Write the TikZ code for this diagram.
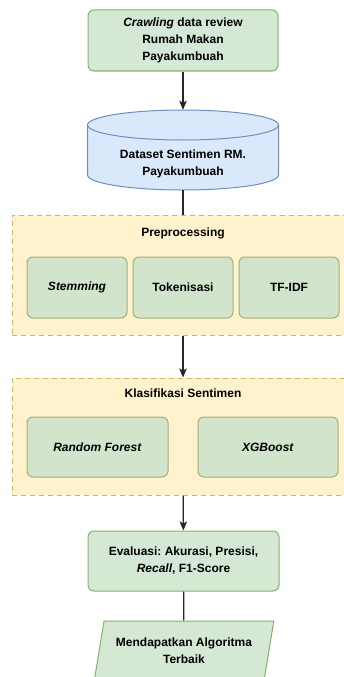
\documentclass[tikz,border=0pt]{standalone}
\usepackage{fontspec}
\setmainfont{Liberation Sans}
\usepackage{tikz}
\usetikzlibrary{positioning, shapes.geometric, arrows.meta}
\definecolor{grfill}{HTML}{D5E8D4}
\definecolor{grline}{HTML}{82B366}
\definecolor{bufill}{HTML}{DAE8FC}
\definecolor{buline}{HTML}{6C8EBF}
\definecolor{yefill}{HTML}{FFF2CC}
\definecolor{yeline}{HTML}{D6B656}
\definecolor{ingfill}{HTML}{D3E4CD}
\definecolor{ingline}{HTML}{A2AE78}
\tikzstyle{txt}=[font=\fontsize{12}{17}\selectfont\bfseries, align=center, inner sep=0pt]
\tikzstyle{gbox}=[txt, draw=grline, fill=grfill, line width=1pt, rounded corners=6pt, shape=rectangle]
\tikzstyle{ibox}=[txt, draw=ingline, fill=ingfill, line width=1pt, rounded corners=6pt, shape=rectangle]
\tikzstyle{grp}=[draw=yeline, fill=yefill, line width=1pt, dashed, dash pattern=on 5pt off 4pt, shape=rectangle, inner sep=0pt]
\tikzstyle{conn}=[line width=1.2pt, black!85]
\tikzset{>={Stealth[length=9pt, width=7.5pt, inset=2pt]}}
\frenchspacing

\begin{document}
\begin{tikzpicture}[x=1pt, y=-1pt]
\useasboundingbox (0,0) rectangle (344,677);
% alur utama
\node[gbox, minimum width=190pt, minimum height=61pt] (crawl) at (183,40.5) {\textit{Crawling} data review\\Rumah Makan\\Payakumbuah};
% silinder dataset
\draw[draw=buline, fill=bufill, line width=1pt] (87.5,125) -- (87.5,175) arc[start angle=180, end angle=0, x radius=95.5, y radius=15] -- (278.5,125);
\draw[draw=buline, fill=bufill, line width=1pt] (183,125) ellipse[x radius=95.5, y radius=15];
\node[inner sep=0pt, minimum width=191pt, minimum height=80pt] (ds) at (183,150) {};
\node[txt] (dstxt) at (183,163.5) {Dataset Sentimen RM.\\Payakumbuah};

% preprocessing
\node[grp, minimum width=342pt, minimum height=120pt] (pre) at (183,275) {};
\node[txt] (pretitle) at (183,233) {Preprocessing};
\foreach \x/\n/\t in {77/stem/\textit{Stemming}, 183/tok/Tokenisasi, 289/tfidf/TF-IDF}
{
\node[ibox, minimum width=100pt, minimum height=61pt] (\n) at (\x,287.5) {\t};
}

% klasifikasi
\node[grp, minimum width=342pt, minimum height=117pt] (kls) at (183,436.5) {};
\node[txt] (klstitle) at (183,393) {Klasifikasi Sentimen};
\node[ibox, minimum width=141pt, minimum height=60pt] (rf) at (97.5,447) {\textit{Random Forest}};
\node[ibox, minimum width=140pt, minimum height=60pt] (xgb) at (268,447) {\textit{XGBoost}};

% evaluasi dan hasil
\node[gbox, minimum width=191pt, minimum height=60pt] (eval) at (183.5,561) {Evaluasi: Akurasi, Presisi,\\\textit{Recall}, F1-Score};
\node[trapezium, trapezium left angle=72, trapezium right angle=108, trapezium stretches=true, txt, draw=grline, fill=grfill, line width=1pt, minimum width=180pt, minimum height=60pt] (best) at (184,651) {Mendapatkan Algoritma\\Terbaik};

\draw[conn, ->] (crawl) -- (ds);
\draw[conn] (ds) -- (pre);
\draw[conn, ->] (pre) -- (kls);
\draw[conn, ->] (kls) -- (eval);
\draw[conn] (eval) -- (best);
\end{tikzpicture}
\end{document}
